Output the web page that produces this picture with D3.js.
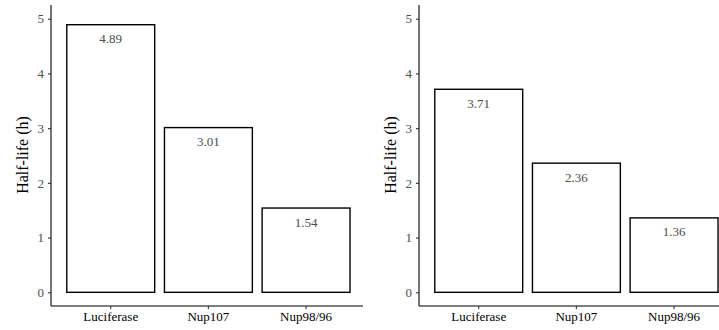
<!DOCTYPE html>
<html>
<head>
<meta charset="utf-8">
<script src="https://cdn.jsdelivr.net/npm/d3@7"></script>
<style>
  html, body { margin: 0; padding: 0; background: #fff; }
  svg { display: block; }
</style>
</head>
<body>
<svg id="chart" width="719" height="330"></svg>
<script>
// Half-life per construct, two experiments side by side
const categories = ["Luciferase", "Nup107", "Nup98/96"];
const halfLifeA = [4.89, 3.01, 1.54];
const halfLifeB = [3.71, 2.36, 1.36];
const yTicks = [0, 1, 2, 3, 4, 5];
const yLabel = "Half-life (h)";

const svg = d3.select("#chart");
const font = "'Liberation Serif', 'DejaVu Serif', serif";

function panel(values, left) {
  const g = svg.append("g");
  const axisX = left;
  const axisRight = left + 312;
  const y = d3.scaleLinear().domain([-0.25, 5.25]).range([306, 5]);
  const x = d3.scaleBand()
    .domain(categories)
    .range([axisX + 10.9, axisX + 303.9])
    .paddingInner(0.1)
    .paddingOuter(0.05);

  // bars
  g.selectAll("rect.bar")
    .data(values)
    .join("rect")
    .attr("class", "bar")
    .attr("x", (d, i) => x(categories[i]))
    .attr("width", x.bandwidth())
    .attr("y", d => y(d))
    .attr("height", d => y(0) - y(d))
    .attr("fill", "#fff")
    .attr("stroke", "#000")
    .attr("stroke-width", 1.4);

  // value labels inside bar tops
  g.selectAll("text.val")
    .data(values)
    .join("text")
    .attr("class", "val")
    .attr("x", (d, i) => x(categories[i]) + x.bandwidth() / 2)
    .attr("y", d => y(d) + 18.5)
    .attr("text-anchor", "middle")
    .attr("font-family", font)
    .attr("font-size", 13)
    .attr("fill", "#4d4d4d")
    .text(d => d.toFixed(2));

  // y axis
  const yAxis = d3.axisLeft(y).tickValues(yTicks).tickSize(3).tickPadding(4).tickFormat(d3.format("d"));
  const ga = g.append("g").attr("transform", `translate(${axisX},0)`).call(yAxis);
  ga.select(".domain").attr("d", `M0,5V306`).attr("stroke", "#000").attr("stroke-width", 1.1);
  ga.selectAll(".tick line").attr("stroke", "#333").attr("stroke-width", 1.1);
  ga.selectAll(".tick text").attr("font-family", font).attr("font-size", 13).attr("fill", "#4d4d4d");

  // x axis
  const xAxis = d3.axisBottom(x).tickSize(3).tickPadding(3);
  const gx = g.append("g").attr("transform", `translate(0,306)`).call(xAxis);
  gx.select(".domain").attr("d", `M${axisX},0H${axisRight}`).attr("stroke", "#000").attr("stroke-width", 1.1);
  gx.selectAll(".tick line").attr("stroke", "#333").attr("stroke-width", 1.1);
  gx.selectAll(".tick text").attr("font-family", font).attr("font-size", 13).attr("fill", "#000");

  // y title
  g.append("text")
    .attr("transform", `translate(${axisX - 29},155) rotate(-90)`)
    .attr("text-anchor", "middle")
    .attr("dy", "0.35em")
    .attr("font-family", font)
    .attr("font-size", 16)
    .attr("fill", "#000")
    .text(yLabel);
}

panel(halfLifeA, 51);
panel(halfLifeB, 419);
</script>
</body>
</html>
